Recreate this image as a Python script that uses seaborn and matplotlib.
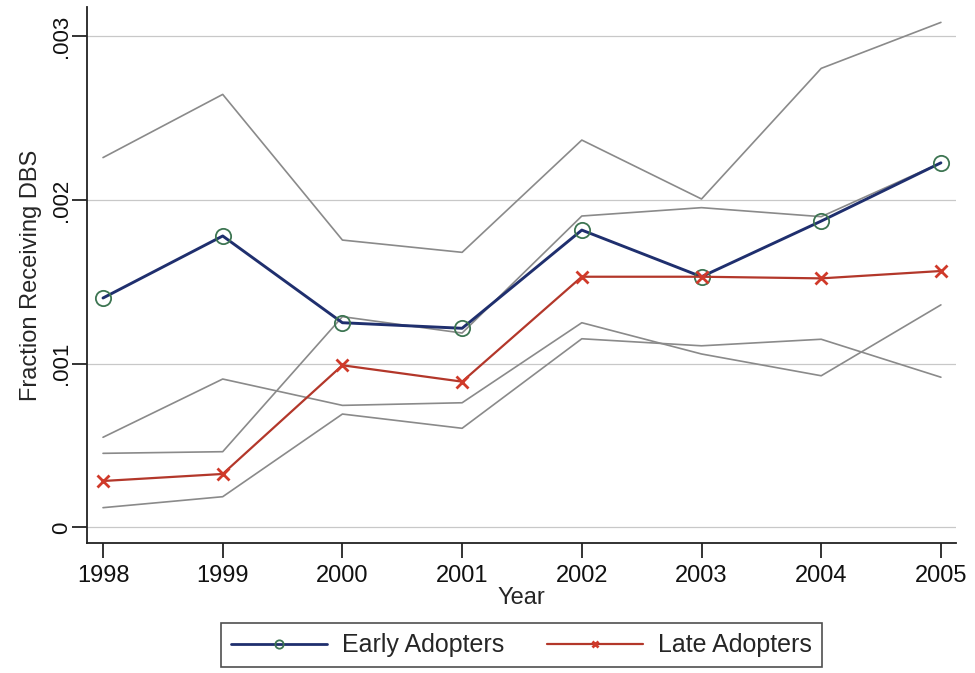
import matplotlib
matplotlib.use("Agg")
import matplotlib.pyplot as plt
from matplotlib.lines import Line2D
from matplotlib.ticker import FuncFormatter
import numpy as np
import pandas as pd
import seaborn as sns

years = [1998, 1999, 2000, 2001, 2002, 2003, 2004, 2005]
early = [0.001402, 0.001781, 0.001251, 0.001217, 0.001817, 0.001532, 0.001872, 0.002228]
late = [0.000284, 0.000327, 0.000991, 0.000891, 0.001532, 0.001532, 0.001522, 0.001567]
band_a = [0.002260, 0.002646, 0.001756, 0.001681, 0.002367, 0.002007, 0.002805, 0.003086]
band_b = [0.000453, 0.000463, 0.001288, 0.001188, 0.001903, 0.001954, 0.001899, 0.002228]
band_c = [0.000551, 0.000907, 0.000746, 0.000762, 0.001251, 0.001060, 0.000927, 0.001360]
band_d = [0.000121, 0.000188, 0.000693, 0.000606, 0.001153, 0.001110, 0.001150, 0.000918]
y_ticks = [0, 0.001, 0.002, 0.003]

sns.set_style("ticks")
plt.rcParams["font.family"] = ["Liberation Sans", "DejaVu Sans"]

fig = plt.figure(figsize=(9.75, 6.73), dpi=100)
ax = fig.add_axes([0.0892, 0.1932, 0.8913, 0.7964])

gray = "#8a8a8a"
for band in (band_a, band_b, band_c, band_d):
    sns.lineplot(x=years, y=band, ax=ax, color=gray, lw=1.2, zorder=2)

navy = "#1f2f6e"
red = "#b3372a"
sns.lineplot(x=years, y=early, ax=ax, color=navy, lw=2.1, marker="o",
             markersize=11, markerfacecolor="none", markeredgecolor="#3d7552",
             markeredgewidth=1.3, zorder=4)
sns.lineplot(x=years, y=late, ax=ax, color=red, lw=1.6, marker="x",
             markersize=8, markeredgecolor="#d03a2a", markeredgewidth=2.0, zorder=4)

ax.set_xlim(1997.866, 2005.126)
ax.set_ylim(-0.0000947, 0.00318)
ax.set_xticks(years)
ax.set_yticks(y_ticks)
ax.yaxis.set_major_formatter(FuncFormatter(
    lambda v, _: "0" if v == 0 else ("%.3f" % v).lstrip("0")))
ax.yaxis.grid(True, color="#c8c8c8", lw=0.9)
ax.set_axisbelow(True)

for lab in ax.get_yticklabels():
    lab.set_rotation(90)
    lab.set_va("center")
ax.tick_params(axis="both", direction="out", length=11, width=1.2,
               colors="#111111")
ax.tick_params(axis="x", pad=5, labelsize=17)
ax.tick_params(axis="y", pad=0, labelsize=16)
for side in ("top", "right"):
    ax.spines[side].set_visible(False)
for side in ("left", "bottom"):
    ax.spines[side].set_linewidth(1.3)
    ax.spines[side].set_color("#222222")

ax.set_xlabel("Year", fontsize=17, labelpad=0)
ax.set_ylabel("Fraction Receiving DBS", fontsize=17, labelpad=6)

handles = [
    Line2D([], [], color=navy, lw=2.0, marker="o", markersize=6,
           markerfacecolor="none", markeredgecolor="#3d7552", markeredgewidth=1.3),
    Line2D([], [], color=red, lw=1.6, marker="x", markersize=5,
           markeredgecolor="#d03a2a", markeredgewidth=2.0),
]
leg = ax.legend(handles, ["Early Adopters", "Late Adopters"], loc="upper center",
                bbox_to_anchor=(0.5, -0.150), ncol=2, fontsize=18,
                frameon=True, fancybox=False, edgecolor="#222222",
                handlelength=3.85, handletextpad=0.6, columnspacing=1.7,
                borderpad=0.4, borderaxespad=0)
leg.get_frame().set_linewidth(1.2)

fig.savefig("out.png", dpi=100)
